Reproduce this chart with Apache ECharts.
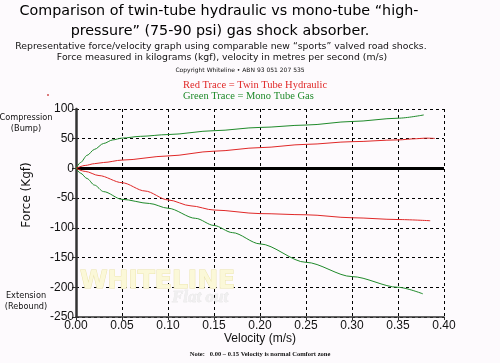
<!DOCTYPE html>
<html>
<head>
<meta charset="utf-8">
<script src="https://cdn.jsdelivr.net/npm/echarts@6/dist/echarts.min.js"></script>
<style>html,body{margin:0;padding:0;background:#fdfafd;}#c{width:500px;height:363px;}</style>
</head>
<body>
<div id="c"></div>
<script>
// ---- data ----
var titleLines = ['Comparison of twin-tube hydraulic vs mono-tube \u201chigh-', 'pressure\u201d (75-90 psi) gas shock absorber.'];
var subtitleLines = ['Representative force/velocity graph using comparable new \u201csports\u201d valved road shocks.', 'Force measured in kilograms (kgf), velocity in metres per second (m/s)'];
var copyrightText = 'Copyright Whiteline \u2022 ABN 93 051 207 535';
var legendRed = 'Red Trace = Twin Tube Hydraulic';
var legendGreen = 'Green Trace = Mono Tube Gas';
var xName = 'Velocity (m/s)';
var yName = 'Force (Kgf)';
var noteText = 'Note:   0.00 \u2013 0.15 Velocity is normal Comfort zone';

var velGreenComp   = [0, 0.005, 0.012, 0.02, 0.03, 0.04, 0.05, 0.07, 0.10, 0.15, 0.20, 0.25, 0.30, 0.35, 0.378];
var forceGreenComp = [0, 10, 22, 32, 42, 48, 51, 54, 57, 63.5, 69, 73, 79, 84.5, 90];

var velRedComp   = [0, 0.01, 0.02, 0.03, 0.05, 0.10, 0.15, 0.20, 0.25, 0.30, 0.35, 0.37, 0.38, 0.39];
var forceRedComp = [0, 5, 8, 10, 14, 21, 29, 35, 40.5, 45, 48, 50, 51, 50.5];

var velRedReb   = [0, 0.01, 0.025, 0.05, 0.075, 0.10, 0.125, 0.15, 0.20, 0.25, 0.30, 0.35, 0.385];
var forceRedReb = [0, -5, -12, -24, -38, -53, -63, -70, -76, -78, -83, -86, -88];

var velGreenReb   = [0, 0.005, 0.012, 0.02, 0.03, 0.05, 0.08, 0.10, 0.13, 0.15, 0.17, 0.20, 0.25, 0.30, 0.35, 0.377];
var forceGreenReb = [0, -8, -17, -28, -39, -52, -59, -67, -84, -96, -108, -127, -158, -182, -200, -211];

function pairs(xs, ys){ return xs.map(function(x,i){ return [x, ys[i]]; }); }

var GREEN = '#1f8a2a', RED = '#e02828';
var chart = echarts.init(document.getElementById('c'), null, {renderer:'canvas'});

function lineSeries(name, xs, ys, color){
  return {name:name, type:'line', data:pairs(xs, ys), showSymbol:false, smooth:0.3, smoothMonotone:'x',
    lineStyle:{color:color, width:1}, itemStyle:{color:color}, z:5, silent:true};
}

var sansTitle = '"DejaVu Sans", sans-serif';
var option = {
  backgroundColor:'#fdfafd',
  animation:false,
  grid:{left:76, right:56, top:109, bottom:46},
  xAxis:{type:'value', min:0, max:0.4, interval:0.05,
    axisLine:{onZero:false, lineStyle:{color:'#333', width:1.5}},
    axisTick:{show:true, length:3, lineStyle:{color:'#333'}},
    axisLabel:{formatter:function(v){return v.toFixed(2);}, color:'#111', fontFamily:'"Liberation Sans", Arial, sans-serif', fontSize:12, margin:3},
    splitLine:{show:true, lineStyle:{color:'#000', type:[3,3], width:1}}},
  yAxis:{type:'value', min:-250, max:100, interval:50,
    axisLine:{show:true, onZero:false, lineStyle:{color:'#333', width:2.5}},
    axisTick:{show:true, length:4, lineStyle:{color:'#333'}},
    axisLabel:{color:'#111', fontFamily:'"Liberation Sans", Arial, sans-serif', fontSize:12, margin:2},
    splitLine:{show:true, lineStyle:{color:'#000', type:[3,3], width:1}}},
  series:[
    lineSeries('gc', velGreenComp, forceGreenComp, GREEN),
    lineSeries('rc', velRedComp, forceRedComp, RED),
    lineSeries('rr', velRedReb, forceRedReb, RED),
    lineSeries('gr', velGreenReb, forceGreenReb, GREEN),
    {type:'line', data:[], silent:true,
      markLine:{symbol:'none', silent:true, label:{show:false}, lineStyle:{color:'#000', width:3, type:'solid'}, data:[{yAxis:0}]}, z:4}
  ],
  graphic:[
    {type:'text', x:219, y:4, style:{text:titleLines[0], font:'14.3px '+sansTitle, fill:'#000', align:'center'}},
    {type:'text', x:220, y:24, style:{text:titleLines[1], font:'14.3px '+sansTitle, fill:'#000', align:'center'}},
    {type:'text', x:221, y:42, style:{text:subtitleLines[0], font:'9.3px '+sansTitle, fill:'#111', align:'center'}},
    {type:'text', x:222, y:53, style:{text:subtitleLines[1], font:'9.3px '+sansTitle, fill:'#111', align:'center'}},
    {type:'text', x:240, y:67, style:{text:copyrightText, font:'6px '+sansTitle, fill:'#111', align:'center'}},
    {type:'text', x:183, y:80, style:{text:legendRed, font:'10.5px "Liberation Serif", serif', fill:RED}},
    {type:'text', x:183, y:91, style:{text:legendGreen, font:'10.5px "Liberation Serif", serif', fill:GREEN}},
    {type:'text', x:26, y:114, style:{text:'Compression', font:'8.2px '+sansTitle, fill:'#111', align:'center'}},
    {type:'text', x:26, y:125, style:{text:'(Bump)', font:'8.2px '+sansTitle, fill:'#111', align:'center'}},
    {type:'text', x:26, y:292, style:{text:'Extension', font:'8.2px '+sansTitle, fill:'#111', align:'center'}},
    {type:'text', x:26, y:303, style:{text:'(Rebound)', font:'8.2px '+sansTitle, fill:'#111', align:'center'}},
    {type:'text', x:27, y:195, rotation:Math.PI/2, style:{text:yName, font:'12px '+sansTitle, fill:'#111', align:'center', verticalAlign:'middle'}},
    {type:'text', x:260, y:333, style:{text:xName, font:'12px "Liberation Sans", Arial, sans-serif', fill:'#111', align:'center'}},
    {type:'text', x:260, y:351, style:{text:noteText, font:'bold 6.5px "Liberation Serif", serif', fill:'#111', align:'center'}},
    {type:'text', x:80, y:269, z:1, style:{text:'WHITELINE', font:'bold 25px "DejaVu Sans", sans-serif', fill:'#fbf8d8', stroke:'#ebe4ad', lineWidth:1}},
    {type:'text', x:172, y:289, z:1, style:{text:'Flat out', font:'italic bold 17px "Liberation Serif", serif', fill:'#f0eff0', stroke:'#e2e2e2', lineWidth:0.5}},
    {type:'circle', shape:{cx:48, cy:95, r:1}, style:{fill:'#d05050'}}
  ]
};
chart.setOption(option);
</script>
</body>
</html>
